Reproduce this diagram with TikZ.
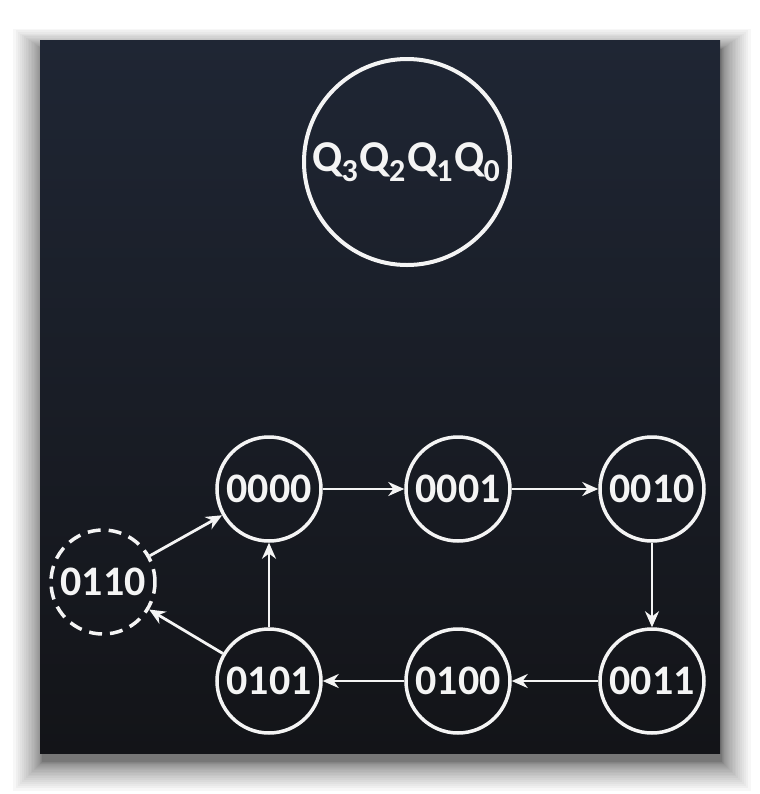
\documentclass[tikz,border=0pt]{standalone}
\usepackage{fontspec}
\setmainfont{Carlito}
\usetikzlibrary{arrows.meta,positioning}

\definecolor{boardtop}{RGB}{31,38,52}
\definecolor{boardbot}{RGB}{19,20,24}
\definecolor{chalk}{RGB}{244,244,244}

\newcommand\qsub[1]{Q\kern-0.02em\raisebox{-0.24em}{\fontsize{16}{16}\selectfont #1}\kern0.04em}

\tikzset{
  state/.style={circle, draw=chalk, line width=1.75pt, minimum size=52pt, inner sep=0pt,
    text=chalk, font=\fontsize{21}{24}\bfseries\selectfont},
  ghost/.style={state, dash pattern=on 6.5pt off 4pt},
  arr/.style={draw=chalk, line width=1.4pt, -{Stealth[length=8pt,width=7pt]}}
}

\begin{document}
\begin{tikzpicture}[x=0.5pt,y=-0.5pt]
\def\xa{103}
\def\xb{269}
\def\xc{458}
\def\xd{652}

\def\ya{489}
\def\yb{582}
\def\yc{681}

\useasboundingbox (0,0) rectangle (760,794);

% soft shadow, then the board
\foreach \i in {1,...,24}
  \fill[black, opacity=0.03] (40-\i*\i*0.05+2, 40-\i*\i*0.035+9) rectangle (720+\i*\i*0.05+2, 753+\i*\i*0.05+9);
\shade[top color=boardtop, bottom color=boardbot] (40,40) rectangle (720,753);

\node[state, minimum size=103pt, line width=2pt, font=\fontsize{22}{24}\bfseries\selectfont] (head) at (407,162) {\qsub{3}\qsub{2}\qsub{1}\qsub{0}};

\node[state] (s0) at (\xb, \ya) {0000};
\node[state] (s1) at (\xc, \ya) {0001};
\node[state] (s2) at (\xd, \ya) {0010};
\node[state] (s3) at (\xd, \yc) {0011};
\node[state] (s4) at (\xc, \yc) {0100};
\node[state] (s5) at (\xb, \yc) {0101};
\node[ghost] (s6) at (\xa, \yb) {0110};

\draw[arr] (s0) -- (s1);
\draw[arr] (s1) -- (s2);
\draw[arr] (s2) -- (s3);
\draw[arr] (s3) -- (s4);
\draw[arr] (s4) -- (s5);
\draw[arr] (s5) -- (s0);
\draw[arr] (s5) -- (s6);
\draw[arr] (s6) -- (s0);

\end{tikzpicture}
\end{document}
